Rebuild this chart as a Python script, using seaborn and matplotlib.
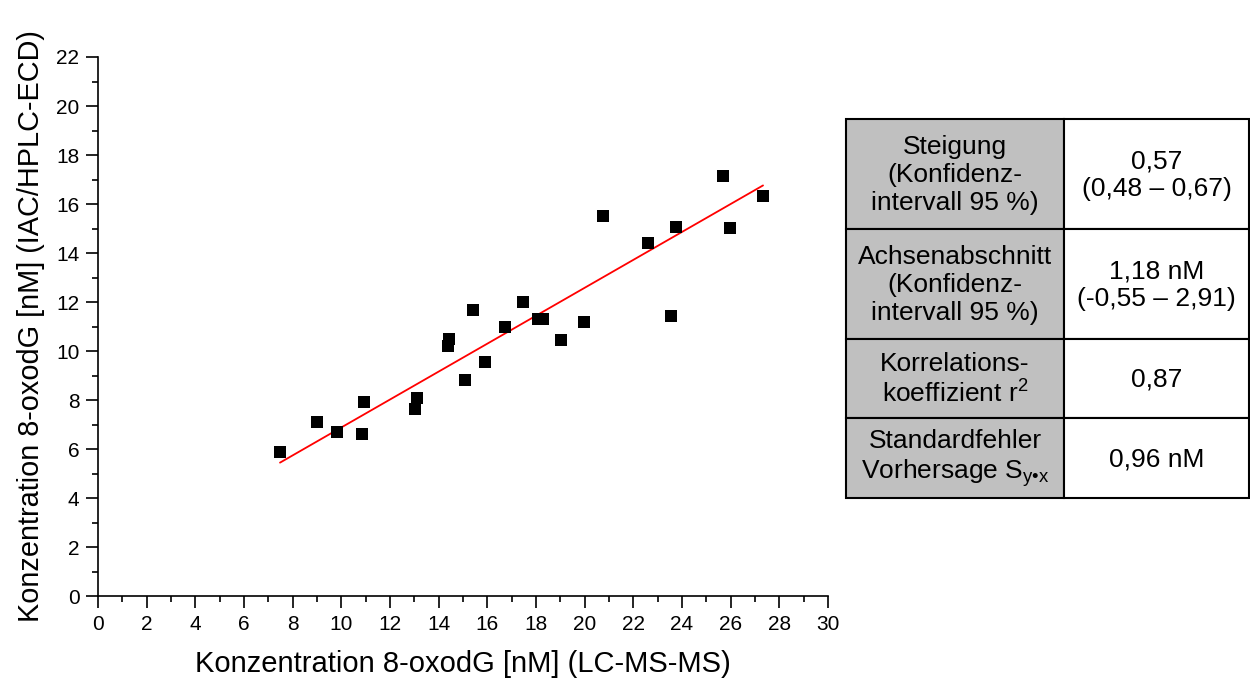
import matplotlib
matplotlib.use("Agg")
import matplotlib.pyplot as plt
import seaborn as sns
import pandas as pd
import numpy as np
from matplotlib.patches import Rectangle
from matplotlib.ticker import MultipleLocator

# --- data ---
lcms = [7.48, 9.02, 9.81, 10.83, 10.94, 13.01, 13.10, 14.37, 14.44, 15.07,
        15.40, 15.92, 16.74, 17.45, 18.07, 18.27, 19.04, 19.96, 20.76, 22.60,
        23.55, 23.76, 25.69, 25.97, 27.33]
ecd = [5.89, 7.11, 6.71, 6.62, 7.90, 7.62, 8.07, 10.20, 10.48, 8.82,
       11.66, 9.55, 10.98, 12.01, 11.29, 11.31, 10.46, 11.17, 15.51, 14.41,
       11.42, 15.06, 17.14, 15.02, 16.33]
slope = 0.57
intercept = 1.18

row_labels = ["Steigung\n(Konfidenz-\nintervall 95 %)",
              "Achsenabschnitt\n(Konfidenz-\nintervall 95 %)",
              "Korrelations-\nkoeffizient r$^{\\mathregular{2}}$",
              "Standardfehler\nVorhersage S$_{\\mathregular{y•x}}$"]
row_values = ["0,57\n(0,48 – 0,67)",
              "1,18 nM\n(-0,55 – 2,91)",
              "0,87",
              "0,96 nM"]

x_label = "Konzentration 8-oxodG [nM] (LC-MS-MS)"
y_label = "Konzentration 8-oxodG [nM] (IAC/HPLC-ECD)"

sns.set_style("ticks")
plt.rcParams["font.family"] = ["Liberation Sans", "DejaVu Sans"]
plt.rcParams["mathtext.fontset"] = "custom"
plt.rcParams["mathtext.rm"] = "Liberation Sans"
plt.rcParams["mathtext.it"] = "Liberation Sans:italic"
plt.rcParams["text.color"] = "black"
plt.rcParams["axes.labelcolor"] = "black"
plt.rcParams["xtick.color"] = "black"
plt.rcParams["ytick.color"] = "black"

fig = plt.figure(figsize=(12.5, 6.81), dpi=100)
ax = fig.add_axes([0.0784, 0.1248, 0.584, 0.7915])

df = pd.DataFrame({"x": lcms, "y": ecd})
sns.scatterplot(data=df, x="x", y="y", marker="s", s=80, color="black",
                linewidth=0, ax=ax, zorder=3)
xl = np.array([min(lcms), max(lcms)])
line_df = pd.DataFrame({"x": xl, "y": intercept + slope * xl})
sns.lineplot(data=line_df, x="x", y="y", color="red", linewidth=1.3, ax=ax, zorder=2)

ax.set_xlim(0, 30)
ax.set_ylim(0, 22)
ax.xaxis.set_major_locator(MultipleLocator(2))
ax.xaxis.set_minor_locator(MultipleLocator(1))
ax.yaxis.set_major_locator(MultipleLocator(2))
ax.yaxis.set_minor_locator(MultipleLocator(1))
ax.tick_params(which="major", length=8.4, width=1.2, labelsize=15, pad=5,
               direction="out", colors="black")
ax.tick_params(which="minor", length=4.4, width=1.2, direction="out", colors="black")
for s in ["top", "right"]:
    ax.spines[s].set_visible(False)
for s in ["left", "bottom"]:
    ax.spines[s].set_linewidth(1.2)
    ax.spines[s].set_color("black")
ax.set_xlabel(x_label, fontsize=21, labelpad=12)
ax.set_ylabel(y_label, fontsize=20.8, labelpad=8)

# --- table ---
tax = fig.add_axes([0.0, 0.0, 1.0, 1.0])
tax.set_xlim(0, 1250)
tax.set_ylim(681, 0)
tax.axis("off")
left, mid, right = 846, 1064, 1249
rows = [119, 229, 339, 418, 498]
for i in range(4):
    y0, y1 = rows[i], rows[i + 1]
    tax.add_patch(Rectangle((left, y0), mid - left, y1 - y0, facecolor="#c0c0c0",
                            edgecolor="black", linewidth=1.5))
    tax.add_patch(Rectangle((mid, y0), right - mid, y1 - y0, facecolor="white",
                            edgecolor="black", linewidth=1.5))
    tax.text((left + mid) / 2, (y0 + y1) / 2 + 1, row_labels[i], ha="center", va="center",
             fontsize=19, linespacing=1.2)
    tax.text((mid + right) / 2, (y0 + y1) / 2 + 1, row_values[i], ha="center", va="center",
             fontsize=19, linespacing=1.2)

fig.savefig("out.png", dpi=100)
